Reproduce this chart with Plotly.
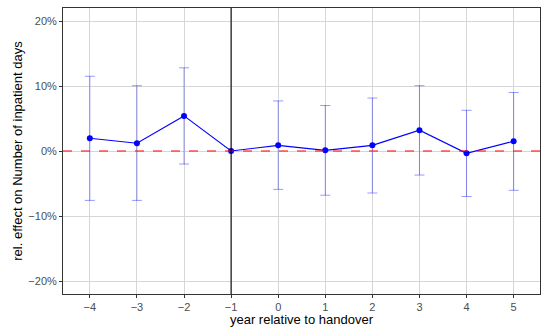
import plotly.graph_objects as go

years = [-4, -3, -2, -1, 0, 1, 2, 3, 4, 5]
estimate = [0.0195, 0.012, 0.054, 0.0, 0.0087, 0.001, 0.0087, 0.032, -0.0036, 0.015]
ci_upper = [0.115, 0.1005, 0.128, 0.0, 0.077, 0.070, 0.0815, 0.1005, 0.0626, 0.090]
ci_lower = [-0.076, -0.076, -0.020, 0.0, -0.059, -0.068, -0.0646, -0.037, -0.070, -0.0605]
y_ticks = [-0.2, -0.1, 0.0, 0.1, 0.2]
y_ticklabels = ["\u221220%", "\u221210%", "0%", "10%", "20%"]
ref_year = -1

eb_x = [x for x in years if x != ref_year]
eb_y = [e for x, e in zip(years, estimate) if x != ref_year]
eb_up = [u - e for x, e, u in zip(years, estimate, ci_upper) if x != ref_year]
eb_dn = [e - l for x, e, l in zip(years, estimate, ci_lower) if x != ref_year]

fig = go.Figure()
fig.add_trace(go.Scatter(
    x=eb_x, y=eb_y, mode="markers",
    marker=dict(size=1, opacity=0),
    error_y=dict(type="data", array=eb_up, arrayminus=eb_dn, symmetric=False,
                 color="rgba(0,0,255,0.4)", thickness=1, width=5),
    showlegend=False, hoverinfo="skip"))
fig.add_trace(go.Scatter(
    x=years, y=estimate, mode="lines+markers",
    line=dict(color="#0000ff", width=1.1),
    marker=dict(color="#0000ff", size=6),
    showlegend=False))

fig.add_shape(type="line", xref="paper", yref="y", x0=0, x1=1, y0=0, y1=0,
              line=dict(color="red", width=1.1, dash="dash"))
fig.add_shape(type="line", xref="x", yref="paper", x0=ref_year, x1=ref_year, y0=0, y1=1,
              line=dict(color="black", width=1.1))

FONT = "Liberation Sans, Arial, sans-serif"
axis_common = dict(
    showgrid=True, gridcolor="#d6d6d6", gridwidth=1,
    zeroline=False, showline=True, linecolor="#333333", linewidth=1, mirror=True,
    ticks="outside", ticklen=3, tickcolor="#333333", tickwidth=1,
    tickfont=dict(family=FONT, size=11, color="#4D4D4D"),
    title_font=dict(family=FONT, size=13, color="#000000"),
)

fig.update_layout(
    template="none",
    width=542, height=327,
    margin=dict(l=63, r=2, t=8, b=33),
    font=dict(family=FONT, color="#4D4D4D"),
    plot_bgcolor="white", paper_bgcolor="white",
    xaxis=dict(range=[-4.57, 5.56], tickvals=years, ticktext=[str(y).replace("-", "\u2212") for y in years],
               title=dict(text="year relative to handover", standoff=0), **axis_common),
    yaxis=dict(range=[-0.22, 0.22], tickvals=y_ticks, ticktext=y_ticklabels,
               title=dict(text="rel. effect on Number of inpatient days", standoff=2), **axis_common),
)

fig.write_html("out.html")
